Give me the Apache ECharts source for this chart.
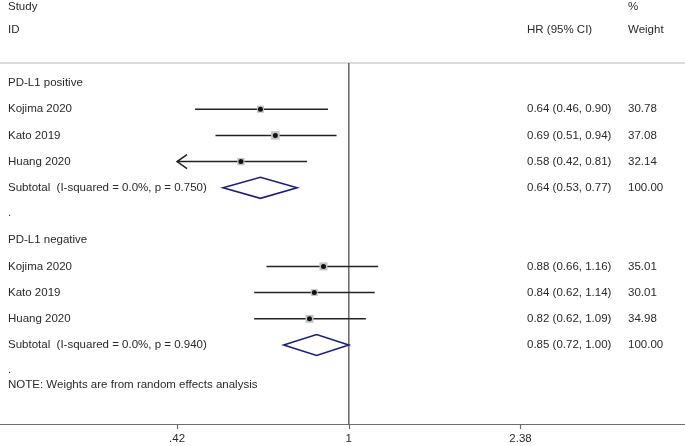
<!DOCTYPE html>
<html>
<head>
<meta charset="utf-8">
<script src="https://cdn.jsdelivr.net/npm/echarts@6/dist/echarts.min.js"></script>
<style>
  html, body { margin: 0; padding: 0; background: #fff; }
  #chart { width: 685px; height: 446px; }
</style>
</head>
<body>
<div id="chart"></div>
<script>
// Data
const studies = ["Kojima 2020", "Kato 2019", "Huang 2020"];

const posHR = [0.64, 0.69, 0.58];
const posLo = [0.46, 0.51, 0.42];
const posHi = [0.90, 0.94, 0.81];
const posWeight = [30.78, 37.08, 32.14];
const posSubtotal = [0.64, 0.53, 0.77];
const posHet = "Subtotal  (I-squared = 0.0%, p = 0.750)";

const negHR = [0.88, 0.84, 0.82];
const negLo = [0.66, 0.62, 0.62];
const negHi = [1.16, 1.14, 1.09];
const negWeight = [35.01, 30.01, 34.98];
const negSubtotal = [0.85, 0.72, 1.00];
const negHet = "Subtotal  (I-squared = 0.0%, p = 0.940)";

const tickValues = [0.42, 1, 2.38];
const tickLabels = [".42", "1", "2.38"];

// Layout helpers
const FONT = "11.5px 'Liberation Sans', Arial, sans-serif";
const TEXT_COLOR = "#2a2a2a";
const colX = { left: 8, hr: 527, wt: 628 };

const fmt = (v) => v.toFixed(2);
const ciText = (e, l, h) => `${fmt(e)} (${fmt(l)}, ${fmt(h)})`;

// rows: study rows and subtotal rows (y = row index)
const studyRows = [];
const diamondRows = [];
const texts = [];

texts.push({ text: "Study", col: "left", row: -2.9 });
texts.push({ text: "ID", col: "left", row: -2.02 });
texts.push({ text: "HR (95% CI)", col: "hr", row: -2.02 });
texts.push({ text: "%", col: "wt", row: -2.9 });
texts.push({ text: "Weight", col: "wt", row: -2.02 });

function addGroup(title, startRow, hr, lo, hi, wt, sub, het) {
  texts.push({ text: title, col: "left", row: startRow });
  studies.forEach((name, i) => {
    const row = startRow + 1 + i;
    studyRows.push([Math.log(hr[i]), row, Math.log(lo[i]), Math.log(hi[i]), wt[i], lo[i] <= tickValues[0] ? 1 : 0]);
    texts.push({ text: name, col: "left", row });
    texts.push({ text: ciText(hr[i], lo[i], hi[i]), col: "hr", row });
    texts.push({ text: fmt(wt[i]), col: "wt", row });
  });
  const subRow = startRow + 4;
  diamondRows.push([Math.log(sub[0]), subRow, Math.log(sub[1]), Math.log(sub[2])]);
  texts.push({ text: het, col: "left", row: subRow });
  texts.push({ text: ciText(sub[0], sub[1], sub[2]), col: "hr", row: subRow });
  texts.push({ text: "100.00", col: "wt", row: subRow });
  texts.push({ text: ".", col: "left", row: subRow + 0.95 });
}

addGroup("PD-L1 positive", 0, posHR, posLo, posHi, posWeight, posSubtotal, posHet);
addGroup("PD-L1 negative", 6, negHR, negLo, negHi, negWeight, negSubtotal, negHet);
texts.push({ text: "NOTE: Weights are from random effects analysis", col: "left", row: 11.53 });

const X_MIN = -1.7616, X_MAX = 1.698;
const Y_MIN = -3.168, Y_MAX = 13.015;
const RULE_ROW = -0.763;

const chart = echarts.init(document.getElementById("chart"), null, { renderer: "canvas" });

const tickLn = tickValues.map((v) => Math.log(v));

const option = {
  animation: false,
  grid: { left: 0, right: 0, top: 0, bottom: 22 },
  xAxis: {
    type: "value",
    min: X_MIN,
    max: X_MAX,
    splitLine: { show: false },
    axisLine: { show: true, onZero: false, lineStyle: { color: "#6e6e6e", width: 1.2 } },
    axisTick: { show: true, customValues: tickLn, length: 5, lineStyle: { color: "#6e6e6e", width: 1.2 } },
    axisLabel: {
      customValues: tickLn,
      color: TEXT_COLOR,
      fontSize: 11.5,
      fontFamily: "'Liberation Sans', Arial, sans-serif",
      margin: 9,
      formatter: (v) => {
        let best = 0;
        tickLn.forEach((t, i) => { if (Math.abs(t - v) < Math.abs(tickLn[best] - v)) best = i; });
        return tickLabels[best];
      }
    }
  },
  yAxis: { type: "value", inverse: true, min: Y_MIN, max: Y_MAX, show: false },
  series: [
    {
      // header rule and null line
      type: "custom",
      data: [[0]],
      silent: true,
      renderItem: (params, api) => {
        const left = api.coord([X_MIN, RULE_ROW]);
        const right = api.coord([X_MAX, RULE_ROW]);
        const top = api.coord([0, RULE_ROW]);
        const bottom = api.coord([0, Y_MAX]);
        return {
          type: "group",
          children: [
            { type: "line", shape: { x1: left[0], y1: left[1], x2: right[0], y2: right[1] }, style: { stroke: "#dcdcdc", lineWidth: 2 } },
            { type: "line", shape: { x1: top[0], y1: top[1], x2: bottom[0], y2: bottom[1] }, style: { stroke: "#707070", lineWidth: 1.6 } }
          ]
        };
      }
    },
    {
      // study estimates with CI
      type: "custom",
      data: studyRows,
      silent: true,
      renderItem: (params, api) => {
        const row = api.value(1);
        const pe = api.coord([api.value(0), row]);
        const pl = api.coord([api.value(2), row]);
        const ph = api.coord([api.value(3), row]);
        const size = api.value(4) * 0.23;
        const children = [
          { type: "line", shape: { x1: pl[0], y1: pl[1], x2: ph[0], y2: ph[1] }, style: { stroke: "#222", lineWidth: 1.5 } },
          { type: "rect", shape: { x: pe[0] - size / 2, y: pe[1] - size / 2, width: size, height: size }, style: { fill: "#c4c4c4" } },
          { type: "circle", shape: { cx: pe[0], cy: pe[1], r: 2.5 }, style: { fill: "#111" } }
        ];
        if (api.value(5)) {
          children.push({
            type: "polyline",
            shape: { points: [[pl[0] + 10, pl[1] - 7], [pl[0], pl[1]], [pl[0] + 10, pl[1] + 7]] },
            style: { stroke: "#222", lineWidth: 1.5, fill: null }
          });
        }
        return { type: "group", children };
      }
    },
    {
      // pooled diamonds
      type: "custom",
      data: diamondRows,
      silent: true,
      renderItem: (params, api) => {
        const row = api.value(1);
        const pe = api.coord([api.value(0), row]);
        const pl = api.coord([api.value(2), row]);
        const ph = api.coord([api.value(3), row]);
        const h = 10.5;
        return {
          type: "polygon",
          shape: { points: [[pl[0], pl[1]], [pe[0], pe[1] - h], [ph[0], ph[1]], [pe[0], pe[1] + h]] },
          style: { stroke: "#1b1f7a", lineWidth: 1.6, fill: null }
        };
      }
    },
    {
      // text columns
      type: "custom",
      data: texts.map((t) => [0, t.row]),
      silent: true,
      renderItem: (params, api) => {
        const t = texts[params.dataIndex];
        const p = api.coord([0, t.row]);
        return {
          type: "text",
          x: colX[t.col],
          y: p[1],
          style: {
            text: t.text,
            font: FONT,
            fill: TEXT_COLOR,
            align: "left",
            verticalAlign: "middle",
            textAlign: "left",
            textVerticalAlign: "middle"
          }
        };
      }
    }
  ]
};

chart.setOption(option);
</script>
</body>
</html>
